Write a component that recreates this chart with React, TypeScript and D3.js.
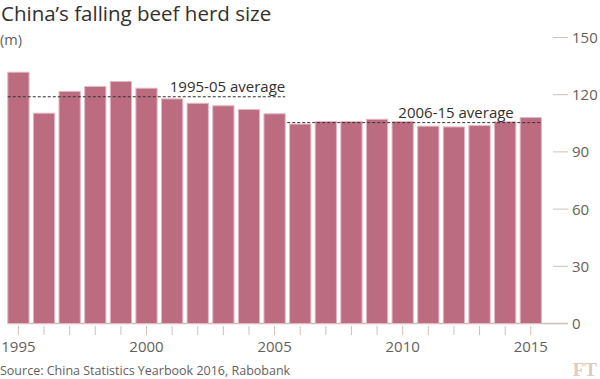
import React from "react";
import * as d3 from "d3";

const years = [1995, 1996, 1997, 1998, 1999, 2000, 2001, 2002, 2003, 2004, 2005, 2006, 2007, 2008, 2009, 2010, 2011, 2012, 2013, 2014, 2015];
const herd = [131.8, 110.3, 121.7, 124.3, 126.9, 123.4, 117.8, 115.5, 114.2, 112.2, 110.0, 104.6, 105.9, 105.9, 107.1, 105.9, 103.5, 103.1, 103.8, 105.8, 108.0];
const yTicks = [0, 30, 60, 90, 120, 150];
const xLabelYears = [1995, 2000, 2005, 2010, 2015];
const averages = [
  { label: "1995-05 average", from: 1995, to: 2005 },
  { label: "2006-15 average", from: 2006, to: 2015 },
];

const W = 600, H = 379;
const font = "'Open Sans', sans-serif";

export default function App() {
  const x = d3.scaleBand<number>().domain(years).range([5.6, 543.6]).paddingInner(0.17).paddingOuter(0.085);
  const y = d3.scaleLinear().domain([0, 150]).range([323.5, 37.5]);
  const bw = x.bandwidth();
  const step = x.step();
  const avgLines = averages.map((a) => {
    const vals = years.map((yr, i) => ({ yr, v: herd[i] })).filter((d) => d.yr >= a.from && d.yr <= a.to).map((d) => d.v);
    return { ...a, mean: d3.mean(vals) as number };
  });
  return (
    <div style={{ position: "absolute", left: 0, top: 0 }}>
      <svg width={W} height={H} style={{ display: "block", background: "#fff" }}>
        <text x={1} y={20.5} fontFamily={font} fontSize={20.5} fill="#33302e">China’s falling beef herd size</text>
        <text x={0} y={45} fontFamily={font} fontSize={14.5} fill="#66605c">(m)</text>
        {yTicks.map((t) => (
          <g key={t}>
            <line x1={553} x2={568} y1={y(t)} y2={y(t)} stroke="#ccc1b7" strokeWidth={1} />
            <text x={572} y={y(t)} dy="0.36em" fontFamily={font} fontSize={15} fill="#66605c">{t}</text>
          </g>
        ))}
        {years.map((yr) => (
          <line key={"t" + yr} x1={(x(yr) as number) + bw / 2} x2={(x(yr) as number) + bw / 2} y1={326} y2={335} stroke="#ccc1b7" strokeWidth={1} />
        ))}
        {xLabelYears.map((yr) => (
          <text key={"l" + yr} x={(x(yr) as number) + bw / 2} y={352} textAnchor="middle" fontFamily={font} fontSize={15} fill="#66605c">{yr}</text>
        ))}
        <line x1={x(1995) as number} x2={568} y1={y(0)} y2={y(0)} stroke="#ccc1b7" strokeWidth={1.5} />
        {years.map((yr, i) => (
          <rect key={yr} x={x(yr) as number} y={y(herd[i])} width={bw} height={y(0) - y(herd[i])} fill="#bc6c80" stroke="#e2b8c2" strokeWidth={1} />
        ))}
        {avgLines.map((a, i) => {
          const x1 = i === 0 ? (x(a.from) as number) : (x(a.from) as number) - step + bw + 2;
          const x2 = (x(a.to) as number) + bw;
          const tx = i === 0 ? x2 : (x(2014) as number) + bw - 2;
          return (
            <g key={a.label}>
              <line x1={x1} x2={x2} y1={y(a.mean)} y2={y(a.mean)} stroke="#33302e" strokeWidth={1} strokeDasharray="3,2" />
              <text x={tx} y={y(a.mean) - 4.5} textAnchor="end" fontFamily={font} fontSize={15} fill="#33302e">{a.label}</text>
            </g>
          );
        })}
        <text x={0} y={375} fontFamily={font} fontSize={12.5} fill="#66605c">Source: China Statistics Yearbook 2016, Rabobank</text>
        <text x={597} y={376} textAnchor="end" fontFamily="'Liberation Serif', serif" fontWeight="bold" fontSize={19} fill="#d9cdc2">FT</text>
      </svg>
    </div>
  );
}
